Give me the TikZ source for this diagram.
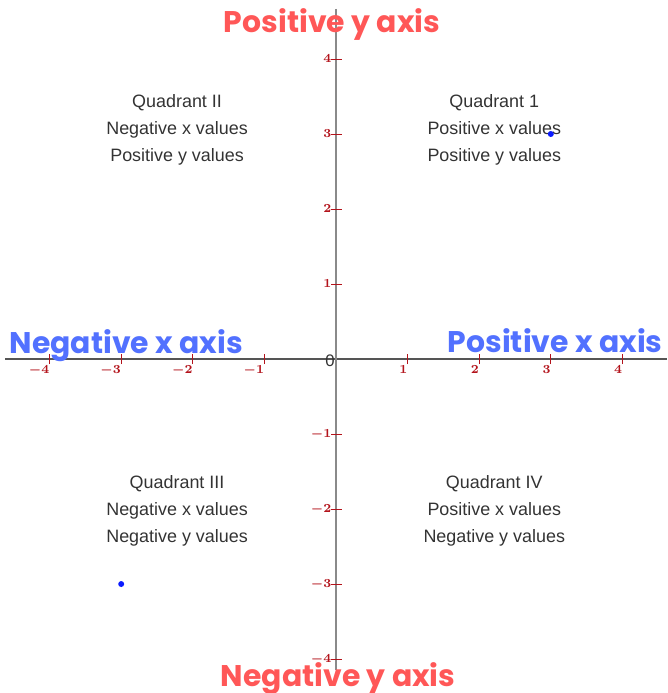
\documentclass[tikz,border=0pt]{standalone}
\usepackage{fontspec}
\setmainfont{Liberation Sans}
\newfontfamily\bannerfont{Poppins}
\usetikzlibrary{positioning}
\definecolor{axisred}{HTML}{FF5757}
\definecolor{axisblue}{HTML}{5271FF}
\definecolor{tickred}{HTML}{B3131B}
\definecolor{quadink}{HTML}{333333}
\definecolor{xline}{HTML}{555555}
\definecolor{yline}{HTML}{8A8A8A}
\definecolor{ptblue}{HTML}{0B1BFF}

\begin{document}
\begin{tikzpicture}[x=1.432cm,y=1.5cm,
    banner/.style={font=\bannerfont\bfseries\fontsize{17}{20}\selectfont,anchor=base,inner sep=0pt},
    quadtext/.style={text=quadink,align=center,font=\fontsize{10.2}{15.3}\selectfont},
    ticklab/.style={text=tickred,inner sep=0pt,font=\boldmath\bfseries\fontsize{7.5}{8}\selectfont}]
  \useasboundingbox (-4.693,-4.453) rectangle (4.623,4.787);

  % Axes with their ticks.
  \draw[xline,line width=0.7pt] (-4.62,0)--(4.623,0);
  \draw[yline,line width=0.7pt] (0,4.67)--(0,-4.15);
  \foreach \k in {-4,-3,-2,-1,1,2,3,4} {
    \draw[tickred,line width=0.5pt] (\k,-0.067)--(\k,0.067);
    \node[ticklab,anchor=north east] (xt\k) at (\k,-0.08) {$\k$};
    \draw[tickred,line width=0.5pt] (-0.07,\k)--(0.08,\k);
    \node[ticklab,anchor=east] (yt\k) at (-0.06,\k) {$\k$};
  }
  \node[text=quadink,font=\fontsize{9.5}{10}\selectfont,anchor=east,inner sep=0pt] (zero) at (-0.015,-0.027) {0};

  % Quadrant captions.
  \node[quadtext] (q2) at (-2.22,3.053) {Quadrant II\\Negative x values\\Positive y values};
  \node[quadtext] (q1) at (2.21,3.053) {Quadrant 1\\Positive x values\\Positive y values};
  \node[quadtext] (q3) at (-2.22,-2.027) {Quadrant III\\Negative x values\\Negative y values};
  \node[quadtext] (q4) at (2.21,-2.027) {Quadrant IV\\Positive x values\\Negative y values};

  % The two plotted points.
  \fill[ptblue] (3,3) circle (1.7pt);
  \fill[ptblue] (-3,-3) circle (1.7pt);

  % Axis banners.
  \node[banner,text=axisred] (posy) at (-0.056,4.35) {Positive y axis};
  \node[banner,text=axisred] (negy) at (0.03,-4.36) {Negative y axis};
  \node[banner,text=axisblue] (negx) at (-2.93,0.08) {Negative x axis};
  \node[banner,text=axisblue] (posx) at (3.06,0.093) {Positive x axis};
\end{tikzpicture}
\end{document}
